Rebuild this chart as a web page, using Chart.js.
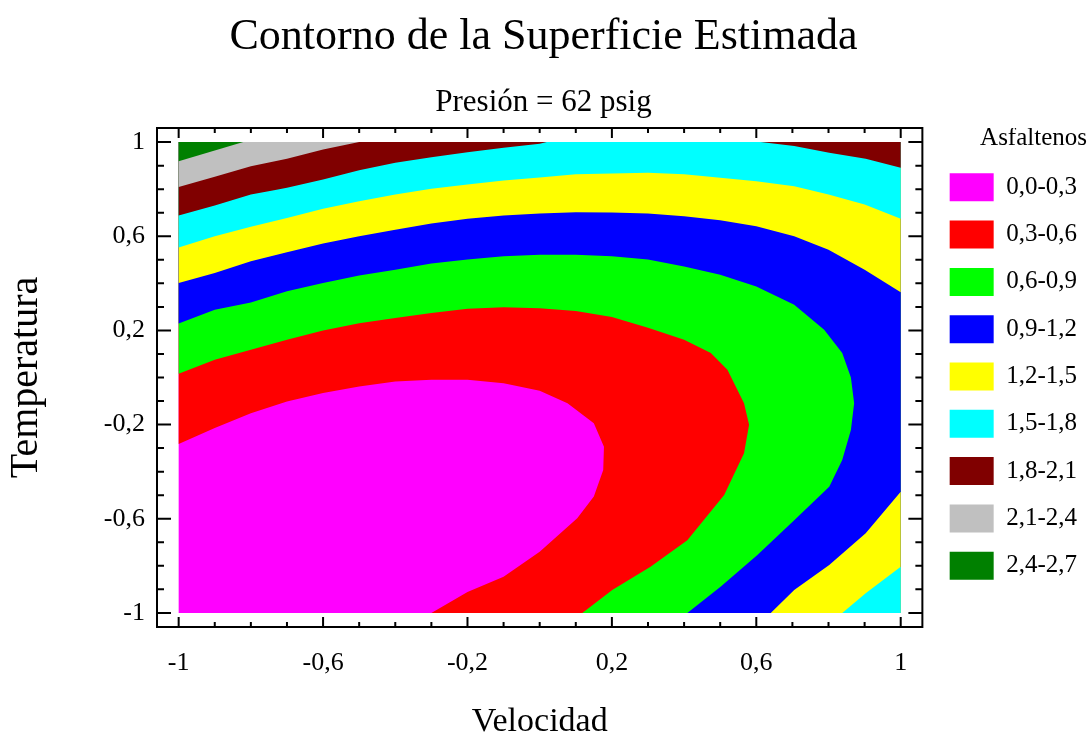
<!DOCTYPE html>
<html>
<head>
<meta charset="utf-8">
<title>Contorno de la Superficie Estimada</title>
<script src="https://cdn.jsdelivr.net/npm/chart.js@4.4.1/dist/chart.umd.min.js"></script>
<style>
  html, body { margin: 0; padding: 0; background: #fff; }
  #wrap { width: 1087px; height: 742px; }
</style>
</head>
<body>
<div id="wrap"><canvas id="contour" width="1087" height="742"></canvas></div>
<script>
// Asfaltenos bands (legend)
const bandLabels = ['0,0-0,3', '0,3-0,6', '0,6-0,9', '0,9-1,2', '1,2-1,5', '1,5-1,8', '1,8-2,1', '2,1-2,4', '2,4-2,7'];
const bandColors = ['#ff00ff', '#ff0000', '#00ff00', '#0000ff', '#ffff00', '#00ffff', '#800000', '#c0c0c0', '#008000'];

// Contour lines, points are [Velocidad, Temperatura]
const c03 = [[-1, -0.282], [-0.9, -0.215], [-0.8, -0.152], [-0.7, -0.102], [-0.6, -0.066], [-0.5, -0.038],
  [-0.4, -0.017], [-0.3, -0.01], [-0.2, -0.01], [-0.1, -0.024], [0, -0.056], [0.077, -0.109], [0.15, -0.194],
  [0.178, -0.294], [0.176, -0.393], [0.15, -0.506], [0.104, -0.598], [0, -0.74], [-0.1, -0.847], [-0.2, -0.911], [-0.3, -1]];
const c06 = [[-1, 0.016], [-0.9, 0.075], [-0.8, 0.118], [-0.7, 0.16], [-0.6, 0.2], [-0.5, 0.231], [-0.4, 0.253],
  [-0.3, 0.274], [-0.2, 0.292], [-0.1, 0.298], [0, 0.294], [0.1, 0.282], [0.2, 0.257], [0.3, 0.211], [0.4, 0.16],
  [0.474, 0.104], [0.52, 0.033], [0.566, -0.109], [0.58, -0.201], [0.566, -0.322], [0.511, -0.499], [0.409, -0.691],
  [0.307, -0.804], [0.201, -0.903], [0.118, -1]];
const c09 = [[-1, 0.229], [-0.9, 0.288], [-0.8, 0.319], [-0.7, 0.366], [-0.6, 0.402], [-0.5, 0.433], [-0.4, 0.458],
  [-0.3, 0.484], [-0.2, 0.501], [-0.1, 0.515], [0, 0.521], [0.1, 0.522], [0.2, 0.515], [0.3, 0.501], [0.4, 0.472],
  [0.5, 0.437], [0.6, 0.387], [0.705, 0.309], [0.788, 0.203], [0.838, 0.104], [0.862, 0], [0.871, -0.109],
  [0.862, -0.223], [0.838, -0.35], [0.802, -0.464], [0.705, -0.606], [0.603, -0.754], [0.501, -0.889], [0.409, -1]];
const c12Top = [[-1, 0.402], [-0.9, 0.444], [-0.8, 0.494], [-0.7, 0.532], [-0.6, 0.569], [-0.5, 0.6], [-0.4, 0.628],
  [-0.3, 0.654], [-0.2, 0.674], [-0.1, 0.688], [0, 0.697], [0.1, 0.702], [0.2, 0.701], [0.3, 0.697], [0.4, 0.685],
  [0.5, 0.668], [0.6, 0.643], [0.705, 0.6], [0.8, 0.543], [0.9, 0.458], [1, 0.362]];
const c12Corner = [[0.64, -1], [0.705, -0.903], [0.802, -0.797], [0.903, -0.662], [1, -0.485]];
const c15Top = [[-1, 0.552], [-0.9, 0.6], [-0.8, 0.64], [-0.7, 0.678], [-0.6, 0.717], [-0.5, 0.749], [-0.4, 0.777],
  [-0.3, 0.802], [-0.2, 0.82], [-0.1, 0.837], [0, 0.85], [0.1, 0.863], [0.3, 0.87], [0.4, 0.863], [0.6, 0.834],
  [0.705, 0.813], [0.8, 0.777], [0.9, 0.735], [1, 0.674]];
const c15Corner = [[0.838, -1], [0.903, -0.917], [1, -0.804]];
const c18Left = [[-1, 0.688], [-0.9, 0.731], [-0.8, 0.777], [-0.736, 0.796], [-0.7, 0.806], [-0.6, 0.841],
  [-0.5, 0.881], [-0.4, 0.912], [-0.3, 0.936], [-0.2, 0.957], [-0.1, 0.976], [0, 0.993], [0.02, 1]];
const c18Right = [[0.612, 1], [0.705, 0.983], [0.802, 0.955], [0.903, 0.929], [1, 0.891]];
const c21 = [[-1, 0.809], [-0.9, 0.853], [-0.8, 0.898], [-0.7, 0.929], [-0.6, 0.969], [-0.5, 1]];
const c24 = [[-1, 0.919], [-0.821, 1]];

// corners of the design region
const BL = [-1, -1], BR = [1, -1], TR = [1, 1], TL = [-1, 1];

const xTicks = [-1, -0.6, -0.2, 0.2, 0.6, 1];
const yTicks = [-1, -0.6, -0.2, 0.2, 0.6, 1];
const minorTicks = [-1, -0.9, -0.8, -0.7, -0.6, -0.5, -0.4, -0.3, -0.2, -0.1, 0, 0.1, 0.2, 0.3, 0.4, 0.5, 0.6, 0.7, 0.8, 0.9, 1];
const axisMin = -1.06, axisMax = 1.06;

// filled regions z >= level, painted from the lowest band up
const regions = [
  { band: 0, pts: [BL, BR, TR, TL] },
  { band: 1, pts: [...c03, BR, TR, TL] },
  { band: 2, pts: [...c06, BR, TR, TL] },
  { band: 3, pts: [...c09, BR, TR, TL] },
  { band: 4, pts: [...c12Top, TR, TL] },
  { band: 4, pts: [...c12Corner, BR] },
  { band: 5, pts: [...c15Top, TR, TL] },
  { band: 5, pts: [...c15Corner, BR] },
  { band: 6, pts: [...c18Left, TL] },
  { band: 6, pts: [...c18Right, TR] },
  { band: 7, pts: [...c21, TL] },
  { band: 8, pts: [...c24, TL] },
];

const fmt = v => String(v).replace('.', ',');

// frame round the plot and inward tick marks on all four sides
const framePlugin = {
  id: 'frame',
  afterDatasetsDraw(chart) {
    const { ctx, chartArea: a, scales: { x, y } } = chart;
    ctx.save();
    ctx.strokeStyle = '#000';
    ctx.lineWidth = 2;
    ctx.strokeRect(a.left, a.top, a.right - a.left, a.bottom - a.top);
    ctx.beginPath();
    minorTicks.forEach(v => {
      const major = xTicks.some(t => Math.abs(t - v) < 1e-9);
      const px = x.getPixelForValue(v);
      const py = y.getPixelForValue(v);
      const lh = major ? 10 : 5;
      const lv = major ? 14 : 7;
      ctx.moveTo(px, a.top); ctx.lineTo(px, a.top + lh);
      ctx.moveTo(px, a.bottom); ctx.lineTo(px, a.bottom - lh);
      ctx.moveTo(a.left, py); ctx.lineTo(a.left + lv, py);
      ctx.moveTo(a.right, py); ctx.lineTo(a.right - lv, py);
    });
    ctx.stroke();
    ctx.restore();
  }
};

Chart.defaults.font.family = "'Liberation Serif', 'Times New Roman', serif";
Chart.defaults.color = '#000';

new Chart(document.getElementById('contour'), {
  type: 'line',
  data: {
    datasets: regions.map((r, i) => ({
      label: bandLabels[r.band],
      data: r.pts.map(p => ({ x: p[0], y: p[1] })),
      backgroundColor: bandColors[r.band],
      borderColor: 'rgba(0,0,0,0)',
      borderWidth: 0,
      pointRadius: 0,
      pointHoverRadius: 0,
      fill: 'shape',
      order: -i
    }))
  },
  options: {
    responsive: false,
    animation: false,
    events: [],
    layout: { padding: 0 },
    scales: {
      x: {
        type: 'linear',
        min: axisMin, max: axisMax,
        afterBuildTicks: s => { s.ticks = xTicks.map(v => ({ value: v })); },
        afterFit: s => { s.height = 115; },
        grid: { display: false, drawTicks: false },
        border: { display: false },
        ticks: { padding: 21, font: { size: 26 }, callback: fmt, autoSkip: false, maxRotation: 0 },
        title: { display: true, text: 'Velocidad', font: { size: 34 }, padding: { top: 0, bottom: 0 } }
      },
      y: {
        type: 'linear',
        min: axisMin, max: axisMax,
        afterBuildTicks: s => { s.ticks = yTicks.map(v => ({ value: v })); },
        afterFit: s => { s.width = 157; },
        grid: { display: false, drawTicks: false },
        border: { display: false },
        ticks: { padding: 12, font: { size: 26 }, callback: fmt, autoSkip: false },
        title: { display: true, text: 'Temperatura', font: { size: 40 }, padding: { top: 2, bottom: 0 } }
      },
      // empty strip between the plot frame and the legend
      gap: {
        type: 'linear',
        position: 'right',
        min: axisMin, max: axisMax,
        afterFit: s => { s.width = 8; },
        grid: { display: false, drawTicks: false },
        border: { display: false },
        ticks: { display: false }
      }
    },
    plugins: {
      title: {
        display: true,
        text: 'Contorno de la Superficie Estimada',
        font: { size: 44, weight: 'normal' },
        padding: { top: 10.6, bottom: 0 }
      },
      subtitle: {
        display: true,
        text: 'Presión = 62 psig',
        font: { size: 31 },
        padding: { top: 21, bottom: 6.4 }
      },
      legend: {
        position: 'right',
        align: 'start',
        fullSize: false,
        onClick: null,
        title: {
          display: true,
          text: 'Asfaltenos',
          position: 'end',
          font: { size: 25 },
          padding: { top: -2, bottom: -2 }
        },
        labels: {
          boxWidth: 44,
          boxHeight: 28,
          padding: 19.3,
          font: { size: 25 },
          generateLabels: () => bandLabels.map((t, i) => ({
            text: t,
            fillStyle: bandColors[i],
            strokeStyle: bandColors[i],
            lineWidth: 0,
            hidden: false,
            index: i
          }))
        }
      },
      tooltip: { enabled: false }
    }
  },
  plugins: [framePlugin]
});
</script>
</body>
</html>
